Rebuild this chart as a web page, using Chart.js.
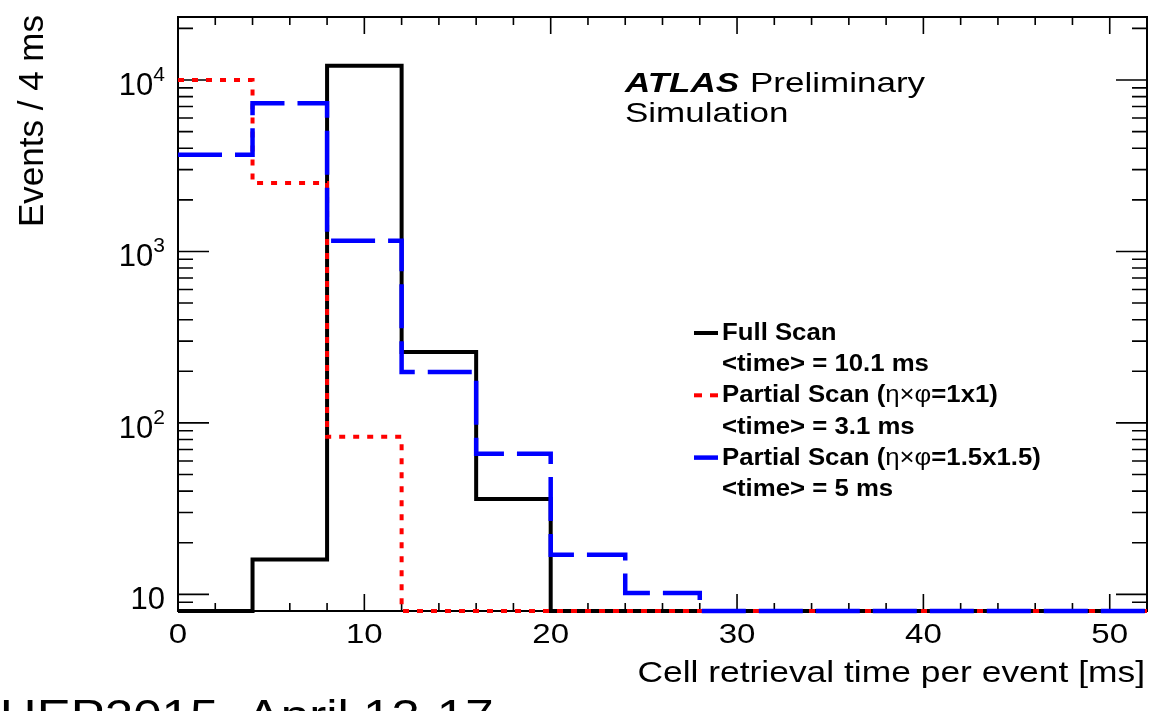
<!DOCTYPE html>
<html>
<head>
<meta charset="utf-8">
<script src="https://cdn.jsdelivr.net/npm/chart.js@4.4.1/dist/chart.umd.min.js"></script>
<style>
  html, body { margin: 0; padding: 0; background: #fff; }
  #wrap { width: 1149px; height: 711px; }
</style>
</head>
<body>
<div id="wrap"><canvas id="cellChart" width="1149" height="711"></canvas></div>
<script>
// bordas dos bins (ms), bins de 4 ms
const binEdges = [0, 4, 8, 12, 16, 20, 24, 28, 32, 36, 40, 44, 48, 52];
// eventos por bin (0 = bin vazio, desenhado no chao do eixo)
const fullScan   = [0, 16, 12100, 259, 36, 0, 0, 0, 0, 0, 0, 0, 0];
const partial1x1 = [10000, 2510, 83, 0, 0, 0, 0, 0, 0, 0, 0, 0, 0];
const partial15  = [3660, 7310, 1155, 198, 66, 17, 10.2, 0, 0, 0, 0, 0, 0];

const seriesNames = ['Full Scan', 'Partial Scan (η×φ=1x1)', 'Partial Scan (η×φ=1.5x1.5)'];
const seriesTimes = ['<time> = 10.1 ms', '<time> = 3.1 ms', '<time> = 5 ms'];

const xTickValues = [0, 10, 20, 30, 40, 50];
const xTickLabels = ['0', '10', '20', '30', '40', '50'];
const yTickValues = [10, 100, 1000, 10000];
const yTickExps   = ['', '2', '3', '4'];

const yMin = 8;
const yMax = 23300;

const FONT = '"Liberation Sans", Arial, Helvetica, sans-serif';
const colors = ['#000000', '#ff0000', '#0000ff'];
const dashes = [[], [6, 8], [44, 13]];
const widths = [4, 4, 4.5];

// histograma como linha em degraus: um ponto por borda de bin
// bins vazios ficam no chao do eixo log (como no ROOT)
function steps(vals) {
    return binEdges.map((x, i) => {
        const v = vals[Math.min(i, vals.length - 1)];
        return { x: x, y: v > 0 ? v : yMin };
    });
}

// texto com leve esticamento horizontal (o original e mais largo)
function txt(ctx, s, x, y, font, align, sx) {
    ctx.save();
    ctx.font = font;
    ctx.translate(x, y);
    ctx.scale(sx, 1);
    ctx.textAlign = align;
    ctx.textBaseline = 'alphabetic';
    ctx.fillText(s, 0, 0);
    ctx.restore();
}

// texto em negrito com letras gregas em peso normal (estilo ROOT)
function runs(ctx, s, x, y, size, sx) {
    ctx.save();
    ctx.translate(x, y);
    ctx.scale(sx, 1);
    ctx.textAlign = 'left';
    let cx = 0;
    for (const ch of s) {
        ctx.font = ('ηφ×'.includes(ch) ? '' : 'bold ') + size + 'px ' + FONT;
        ctx.fillText(ch, cx, 0);
        cx += ctx.measureText(ch).width;
    }
    ctx.restore();
}

const atlasDecor = {
    id: 'atlasDecor',
    beforeDatasetsDraw(chart) {
        const { ctx, chartArea: a, scales: { x, y } } = chart;
        ctx.save();
        ctx.strokeStyle = '#000';
        ctx.lineWidth = 2;
        ctx.strokeRect(a.left, a.top, a.right - a.left, a.bottom - a.top);
        ctx.lineWidth = 1.6;
        ctx.beginPath();
        // ticks do eixo x (para dentro, em baixo e em cima)
        for (let v = 0; v <= x.max; v += 2) {
            const px = x.getPixelForValue(v);
            const len = v % 10 === 0 ? 17 : 8;
            ctx.moveTo(px, a.bottom); ctx.lineTo(px, a.bottom - len);
            ctx.moveTo(px, a.top); ctx.lineTo(px, a.top + len);
        }
        // ticks do eixo y logaritmico
        for (let d = 0; d <= 4; d++) {
            for (let m = 1; m <= 9; m++) {
                const v = m * Math.pow(10, d);
                if (v < y.min || v > y.max) continue;
                const py = y.getPixelForValue(v);
                const len = m === 1 ? 31 : 15;
                ctx.moveTo(a.left, py); ctx.lineTo(a.left + len, py);
                ctx.moveTo(a.right, py); ctx.lineTo(a.right - len, py);
            }
        }
        ctx.stroke();
        ctx.restore();
    },
    afterDraw(chart) {
        const { ctx, scales: { x, y } } = chart;
        ctx.save();
        ctx.fillStyle = '#000';

        // rotulos do eixo x
        xTickValues.forEach((v, i) => {
            txt(ctx, xTickLabels[i], x.getPixelForValue(v), 643, '28px ' + FONT, 'center', 1.18);
        });

        // rotulos do eixo y: 10, 10^2, 10^3, 10^4
        const right = 165;
        yTickValues.forEach((v, i) => {
            const py = y.getPixelForValue(v);
            ctx.font = '21px ' + FONT;
            const we = ctx.measureText(yTickExps[i]).width;
            txt(ctx, '10', right - we, py + 15, '31px ' + FONT, 'right', 1);
            if (yTickExps[i]) txt(ctx, yTickExps[i], right - we, py + 1, '21px ' + FONT, 'left', 1);
        });

        // titulos dos eixos
        txt(ctx, 'Cell retrieval time per event [ms]', 1145, 682, '30px ' + FONT, 'right', 1.18);
        ctx.save();
        ctx.translate(43, 15);
        ctx.rotate(-Math.PI / 2);
        ctx.font = '35px ' + FONT;
        ctx.textAlign = 'right';
        ctx.fillText('Events / 4 ms', 0, 0);
        ctx.restore();

        // ATLAS
        txt(ctx, 'ATLAS', 625, 92, 'italic bold 28px ' + FONT, 'left', 1.25);
        txt(ctx, 'Preliminary', 750, 92, '28px ' + FONT, 'left', 1.25);
        txt(ctx, 'Simulation', 625, 122, '28px ' + FONT, 'left', 1.25);

        // legenda
        seriesNames.forEach((name, i) => {
            const base = 340 + i * 62.3;
            ctx.save();
            ctx.strokeStyle = colors[i];
            ctx.lineWidth = widths[i];
            ctx.setLineDash(i === 1 ? [8, 8] : []);
            ctx.beginPath();
            ctx.moveTo(694, base - 7);
            ctx.lineTo(718, base - 7);
            ctx.stroke();
            ctx.restore();
            runs(ctx, name, 722, base, 23, 1.12);
            runs(ctx, seriesTimes[i], 722, base + 31.2, 23, 1.12);
        });

        // nota no rodape (cortada pela borda)
        txt(ctx, 'CHEP2015, April 13-17', -37, 731, '44px ' + FONT, 'left', 1.16);
        ctx.restore();
    }
};

window.onload = () => {
    const ctx = document.getElementById('cellChart').getContext('2d');
    const allSeries = [fullScan, partial1x1, partial15];
    new Chart(ctx, {
        type: 'line',
        data: {
            datasets: allSeries.map((vals, i) => ({
                label: seriesNames[i],
                data: steps(vals),
                borderColor: colors[i],
                borderWidth: widths[i],
                borderDash: dashes[i],
                borderCapStyle: 'butt',
                borderJoinStyle: 'miter',
                stepped: true,
                fill: false,
                pointRadius: 0,
                clip: 6,
                order: 3 - i
            }))
        },
        options: {
            responsive: false,
            animation: false,
            devicePixelRatio: 1,
            layout: { padding: { left: 178, right: 2, top: 17, bottom: 100 } },
            plugins: { legend: { display: false }, tooltip: { enabled: false } },
            scales: {
                x: { type: 'linear', min: 0, max: 52, display: false },
                y: { type: 'logarithmic', min: yMin, max: yMax, display: false }
            }
        },
        plugins: [atlasDecor]
    });
};
</script>
</body>
</html>
